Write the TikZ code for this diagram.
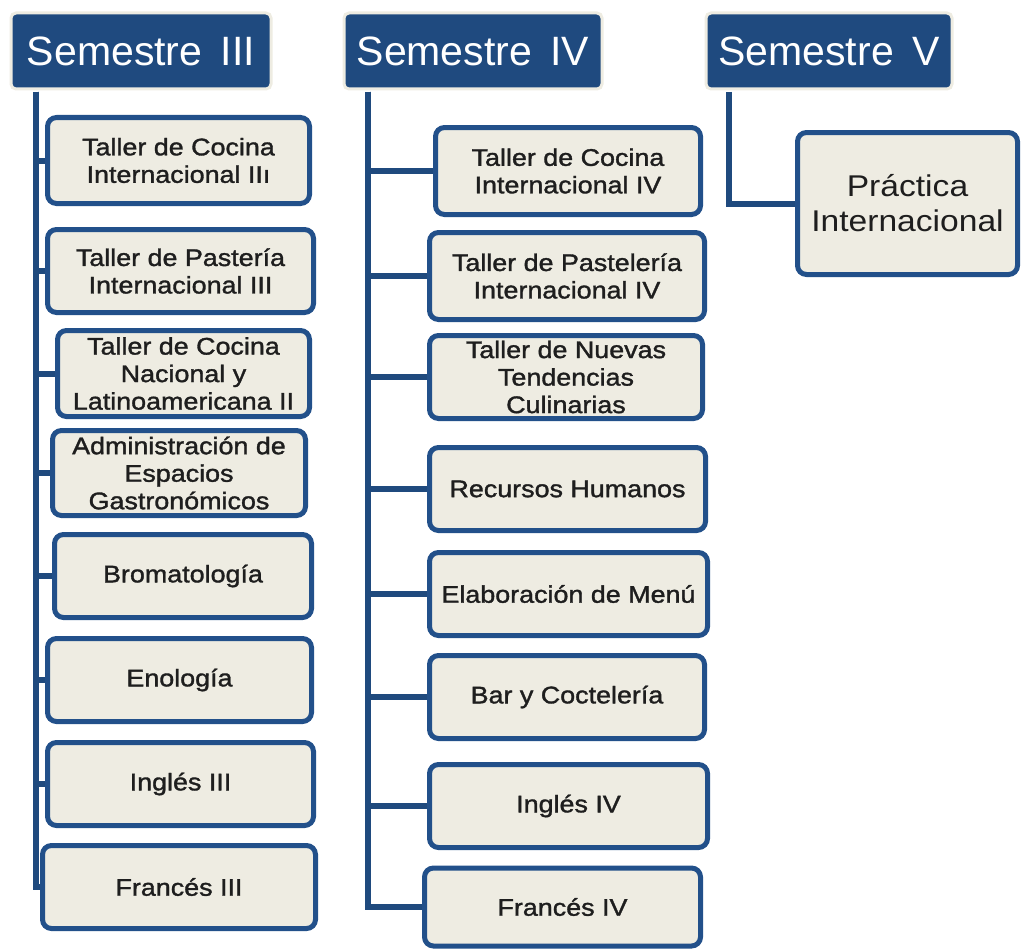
\documentclass[tikz,border=0pt]{standalone}
\usepackage{fontspec}
\setmainfont{Liberation Sans}
\newfontfamily\boxfont{Liberation Sans}[FakeStretch=1.12,FakeBold=1.4]
\newfontfamily\bigboxfont{Liberation Sans}[FakeStretch=1.12]
\usetikzlibrary{backgrounds}
\definecolor{hdrblue}{HTML}{1F4A7F}
\definecolor{lineblue}{HTML}{1F4A7E}
\definecolor{edgeblue}{HTML}{22508A}
\definecolor{paper}{HTML}{EEECE2}
\definecolor{ink}{HTML}{1E1E1E}
\newcommand{\semgap}{\hspace{0.45em}}
\tikzset{
  header/.style={draw=paper, line width=3pt, fill=hdrblue, rounded corners=5pt,
    text=white, inner sep=0pt, minimum height=76pt,
    font=\fontsize{41}{46}\selectfont},
  course/.style={draw=edgeblue, line width=5pt, fill=paper, rounded corners=9pt,
    text=ink, inner sep=0pt, align=center,
    font=\boxfont\fontsize{24}{27.5}\selectfont},
  bigcourse/.style={course, font=\bigboxfont\fontsize{30}{35}\selectfont},
  conn/.style={draw=lineblue, line width=6pt}
}
\begin{document}
\begin{tikzpicture}[x=1pt,y=-1pt]
\useasboundingbox (0,0) rectangle (1021,950);

% semester headers
\node[header, minimum width=260pt] (h3) at (141,51) {Semestre\semgap III};
\node[header, minimum width=258pt] (h4) at (473,51) {Semestre\semgap IV};
\node[header, minimum width=246pt] (h5) at (829,51) {Semestre\semgap V};

% trunk tops under each header
\coordinate (t3) at (36,92);
\coordinate (t4) at (368,92);
\coordinate (t5) at (729,92);

% Semestre III courses
\node[course, minimum width=262pt, minimum height=86pt] (a1) at (178.5,160.5) {Taller de Cocina\\Internacional IIı};
\node[course, minimum width=266pt, minimum height=83pt] (a2) at (180.5,271) {Taller de Pastería\\Internacional III};
\node[course, minimum width=252pt, minimum height=86pt] (a3) at (183.5,373.5) {Taller de Cocina\\Nacional y\\Latinoamericana II};
\node[course, minimum width=253pt, minimum height=85pt] (a4) at (179,473) {Administración de\\Espacios\\Gastronómicos};
\node[course, minimum width=257pt, minimum height=83pt] (a5) at (183,576) {Bromatología};
\node[course, minimum width=264pt, minimum height=83pt] (a6) at (179.5,680) {Enología};
\node[course, minimum width=266pt, minimum height=83pt] (a7) at (180.5,784) {Inglés III};
\node[course, minimum width=273pt, minimum height=83pt] (a8) at (179,887) {Francés III};

% Semestre IV courses
\node[course, minimum width=265pt, minimum height=87pt] (b1) at (568,171) {Taller de Cocina\\Internacional IV};
\node[course, minimum width=275pt, minimum height=87pt] (b2) at (567,276) {Taller de Pastelería\\Internacional IV};
\node[course, minimum width=273pt, minimum height=83pt] (b3) at (566,377) {Taller de Nuevas\\Tendencias\\Culinarias};
\node[course, minimum width=276pt, minimum height=83pt] (b4) at (567.5,489) {Recursos Humanos};
\node[course, minimum width=278pt, minimum height=83pt] (b5) at (568.5,594) {Elaboración de Menú};
\node[course, minimum width=275pt, minimum height=83pt] (b6) at (567,697) {Bar y Coctelería};
\node[course, minimum width=278pt, minimum height=83pt] (b7) at (568.5,806) {Inglés IV};
\node[course, minimum width=276pt, minimum height=78pt] (b8) at (562.5,907) {Francés IV};

% Semestre V course
\node[bigcourse, minimum width=220pt, minimum height=142pt] (c1) at (907.5,203.5) {Práctica\\Internacional};

% connectors behind the boxes
\begin{scope}[on background layer]
  \foreach \n in {a1,a2,a3,a4,a5,a6,a7,a8}
    \draw[conn] (t3) |- (\n.west);
  \foreach \n in {b1,b2,b3,b4,b5,b6,b7,b8}
    \draw[conn] (t4) |- (\n.west);
  \draw[conn] (t5) |- (c1.west);
\end{scope}
\end{tikzpicture}
\end{document}
